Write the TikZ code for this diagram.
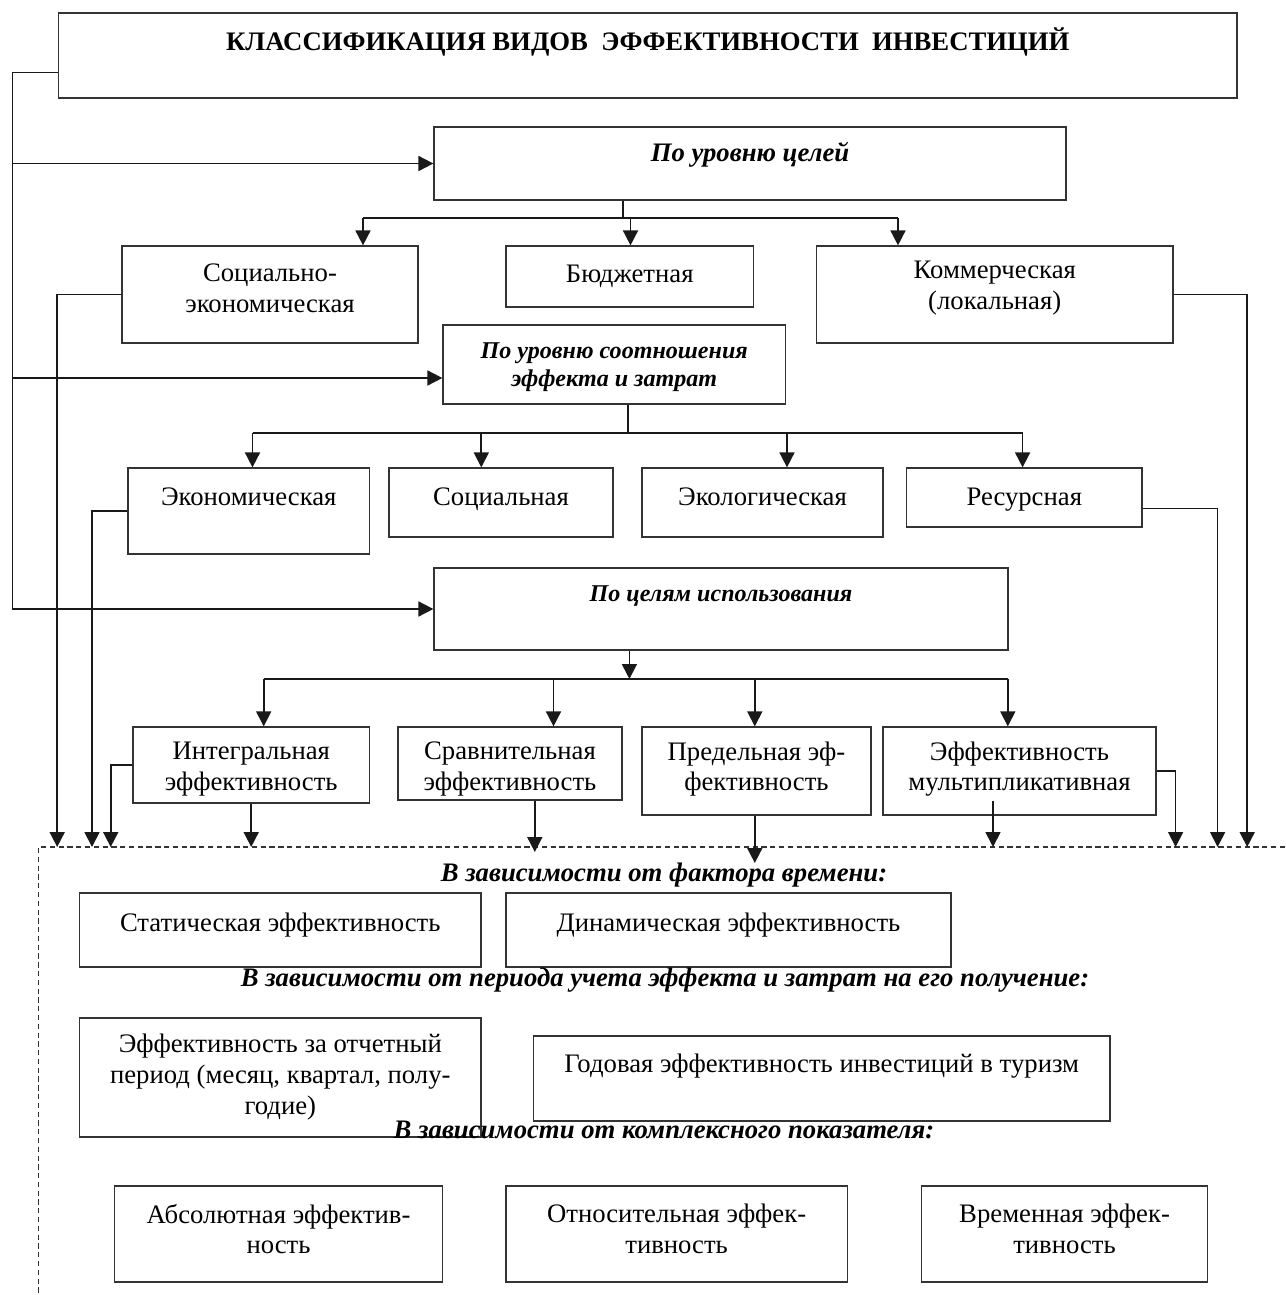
\documentclass[tikz,border=0pt]{standalone}
\usepackage{fontspec}
\setmainfont{Liberation Serif}
\usepackage{tikz}
\usetikzlibrary{arrows.meta,fit,calc}

\begin{document}
\begin{tikzpicture}[x=0.02cm, y=-0.02cm,
  font=\fontsize{15.2}{17.5}\selectfont,
  box/.style={draw=black!80, line width=0.7pt, inner sep=0pt},
  txt/.style={align=center, inner sep=0pt},
  txtone/.style={txt, text height=10.4pt, text depth=0pt},
  headtxt/.style={align=center, inner sep=0pt, font=\fontsize{15.2}{17}\selectfont\bfseries\itshape},
  conn/.style={draw=black!90, line width=1pt},
  arr/.style={conn, -{Triangle[width=8.5pt,length=8.5pt]}}]
  %\tikzstyle{every node}=[draw=red]

  \useasboundingbox (0,0) rectangle (1285,1295);

  \node[box, fit={(58.5,13) (1237,98)}] (t0) {};
  \node[txt, font=\fontsize{15.2}{17}\selectfont\bfseries] (t0t) at (t0 |- 0,42) {КЛАССИФИКАЦИЯ ВИДОВ\ \ ЭФФЕКТИВНОСТИ\ \ ИНВЕСТИЦИЙ};

  \node[box, fit={(434,127) (1066,200)}] (g1) {};
  \node[headtxt] (g1t) at (g1 |- 0,155) {По уровню целей};
  \node[box, fit={(122,246) (418,343)}] (g11) {};
  \node[txt] (g11t) at (g11 |- 0,288) {Социально-\\экономическая};
  \node[box, fit={(506,246) (753.5,307)}] (g12) {};
  \node[txtone] (g12t) at (g12 |- 0,273) {Бюджетная};
  \node[box, fit={(816.5,246) (1173,343)}] (g13) {};
  \node[txt] (g13t) at (g13 |- 0,288) {Коммерческая\\(локальная)};

  \node[box, fit={(443,325) (785.5,404)}] (g2) {};
  \node[headtxt, font=\fontsize{13.7}{16}\selectfont\bfseries\itshape] (g2t) at (g2 |- 0,367) {По уровню соотношения\\эффекта и затрат};
  \node[box, fit={(128,468) (369.5,554)}] (g21) {};
  \node[txtone] (g21t) at (g21 |- 0,496) {Экономическая};
  \node[box, fit={(389,468) (613,537)}] (g22) {};
  \node[txtone] (g22t) at (g22 |- 0,496) {Социальная};
  \node[box, fit={(642,468) (883,537)}] (g23) {};
  \node[txtone] (g23t) at (g23 |- 0,496) {Экологическая};
  \node[box, fit={(906.5,468) (1142,527)}] (g24) {};
  \node[txtone] (g24t) at (g24 |- 0,496) {Ресурсная};

  \node[box, fit={(434,568) (1008,650)}] (g3) {};
  \node[headtxt, font=\fontsize{13.7}{16}\selectfont\bfseries\itshape] (g3t) at (g3 |- 0,596) {По целям использования};
  \node[box, fit={(133,727) (369.5,803)}] (g31) {};
  \node[txt] (g31t) at (g31 |- 0,769) {Интегральная\\эффективность};
  \node[box, fit={(398,727) (622,800)}] (g32) {};
  \node[txt] (g32t) at (g32 |- 0,769) {Сравнительная\\эффективность};
  \node[box, fit={(642,727) (871,815)}] (g33) {};
  \node[txt] (g33t) at (g33 |- 0,769) {Предельная эф-\\фективность};
  \node[box, fit={(883,727) (1156,815)}] (g34) {};
  \node[txt] (g34t) at (g34 |- 0,769) {Эффективность\\мультипликативная};

  % lower part
  \coordinate (fr) at (38.6,847);
  \draw[black!80, line width=0.6pt, dash pattern=on 3pt off 2pt] (1285,847) -- (fr) -- (38.6,1295);

  \node[headtxt] (h1) at (664,875) {В зависимости от фактора времени:};
  \node[box, fit={(79.6,893) (481,967)}] (s1) {};
  \node[txtone] (s1t) at (s1 |- 0,922) {Статическая эффективность};
  \node[box, fit={(506,893) (951,967)}] (s2) {};
  \node[txtone] (s2t) at (s2 |- 0,922) {Динамическая эффективность};

  \node[headtxt] (h2) at (665,980) {В зависимости от периода учета эффекта и затрат на его получение:};
  \node[box, fit={(79.6,1018) (481,1137)}] (s3) {};
  \node[txt] (s3t) at (s3 |- 0,1077) {Эффективность за отчетный\\период (месяц, квартал, полу-\\годие)};
  \node[box, fit={(533.5,1036) (1110,1121)}] (s4) {};
  \node[txtone] (s4t) at (s4 |- 0,1063) {Годовая эффективность инвестиций в туризм};

  \node[headtxt] (h3) at (664,1130) {В зависимости от комплексного показателя:};
  \node[box, fit={(114.4,1186) (442.8,1282)}] (s5) {};
  \node[txt] (s5t) at (s5 |- 0,1229) {Абсолютная эффектив-\\ность};
  \node[box, fit={(506,1186) (847.3,1282)}] (s6) {};
  \node[txt] (s6t) at (s6 |- 0,1229) {Относительная эффек-\\тивность};
  \node[box, fit={(921.4,1186) (1207.7,1282)}] (s7) {};
  \node[txt] (s7t) at (s7 |- 0,1229) {Временная эффек-\\тивность};

  % left rail
  \coordinate (rl) at (12.4,609);
  \draw[conn] ($(t0.west)+(0,17)$) -| (rl);
  \draw[arr] (rl |- g1.west) -- (g1.west);
  \draw[arr] (rl |- 0,378) -- (g2.west |- 0,378);
  \draw[arr] (rl |- g3.west) -- (g3.west);

  % first level
  \coordinate (b1) at (623,218);
  \coordinate (b1l) at (363,218);
  \coordinate (b1m) at (630.5,218);
  \coordinate (b1r) at (898,218);
  \draw[conn] (g1.south -| b1) -- (b1);
  \draw[conn] (b1l) -- (b1r);
  \draw[arr] (b1l) -- (b1l |- g11.north);
  \draw[arr] (b1m) -- (b1m |- g12.north);
  \draw[arr] (b1r) -- (b1r |- g13.north);

  % second level
  \coordinate (b2) at (628,433);
  \coordinate (b2a) at (252.5,433);
  \coordinate (b2b) at (481.3,433);
  \coordinate (b2c) at (787,433);
  \coordinate (b2d) at (1022.6,433);
  \draw[conn] (g2.south -| b2) -- (b2);
  \draw[conn] (b2a) -- (b2d);
  \draw[arr] (b2a) -- (b2a |- g21.north);
  \draw[arr] (b2b) -- (b2b |- g22.north);
  \draw[arr] (b2c) -- (b2c |- g23.north);
  \draw[arr] (b2d) -- (b2d |- g24.north);

  % third level
  \coordinate (b3) at (629.4,679);
  \coordinate (b3a) at (263.7,679);
  \coordinate (b3b) at (553.5,679);
  \coordinate (b3c) at (754.8,679);
  \coordinate (b3d) at (1007.8,679);
  \draw[arr] (g3.south -| b3) -- (b3);
  \draw[conn] (b3a) -- (b3d);
  \draw[arr] (b3a) -- (b3a |- g31.north);
  \draw[arr] (b3b) -- (b3b |- g32.north);
  \draw[arr] (b3c) -- (b3c |- g33.north);
  \draw[arr] (b3d) -- (b3d |- g34.north);

  % into the lower part
  \coordinate (d1) at (57.2,847);
  \coordinate (d2) at (92,847);
  \coordinate (d3) at (110.7,847);
  \coordinate (d4) at (251.2,847);
  \coordinate (d5) at (534.8,852);
  \coordinate (d6) at (754.8,863);
  \coordinate (d7) at (993,847);
  \coordinate (d8) at (1175.6,847);
  \coordinate (d9) at (1217.6,847);
  \coordinate (d10) at (1247.2,847);
  \draw[arr] (g11.west) -| (d1);
  \draw[arr] (g21.west) -| (d2);
  \draw[arr] (g31.west) -| (d3);
  \draw[arr] (g31.south -| d4) -- (d4);
  \draw[arr] (g32.south -| d5) -- (d5);
  \draw[arr] (g33.south -| d6) -- (d6);
  \draw[arr] ($(g34.south -| d7)+(0,-15)$) -- (d7);
  \draw[arr] (g34.east) -| (d8);
  \draw[arr] ($(g24.east)+(0,11)$) -| (d9);
  \draw[arr] (g13.east) -| (d10);

\end{tikzpicture}
\end{document}
